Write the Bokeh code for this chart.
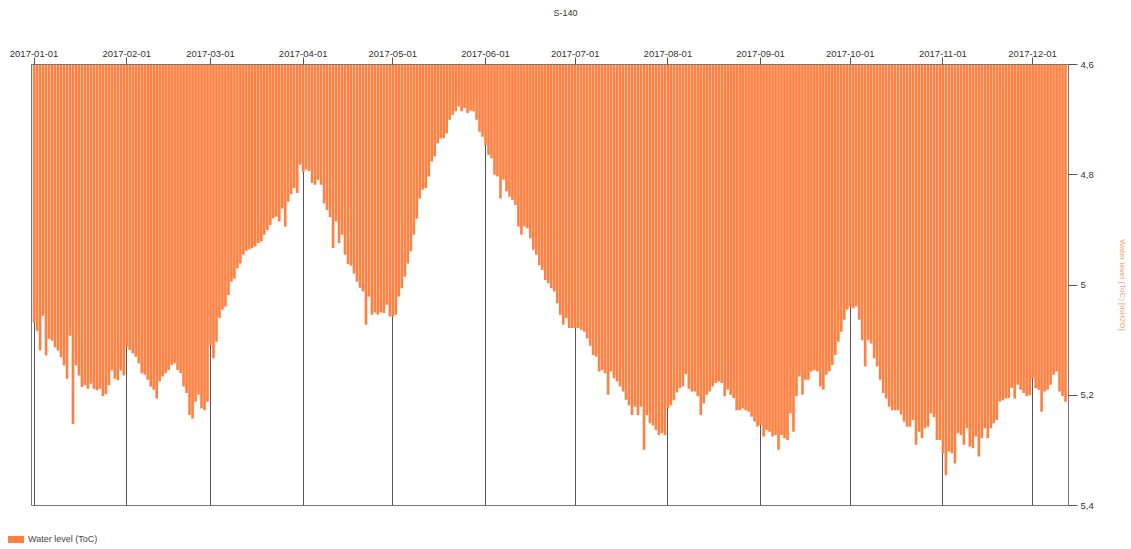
import pandas as pd
from bokeh.plotting import figure
from bokeh.layouts import column
from bokeh.models import (Range1d, FixedTicker, DatetimeTickFormatter, CustomJSTickFormatter,
                          ColumnDataSource, Div)
from bokeh.embed import file_html
from bokeh.resources import INLINE

title_text = "S-140"
series_name = "Water level (ToC)"
y_label = "Water level (ToC) [mH2O]"
start_date = "2017-01-01"
y_ticks = [4.6, 4.8, 5.0, 5.2, 5.4]

jan = [5.068, 5.083, 5.119, 5.056, 5.128, 5.098, 5.101, 5.113, 5.119, 5.131, 5.146, 5.170, 5.092,
       5.252, 5.146, 5.164, 5.185, 5.182, 5.188, 5.179, 5.188, 5.191, 5.188, 5.202, 5.198, 5.182,
       5.155, 5.170, 5.173, 5.155, 5.164]
feb = [5.112, 5.118, 5.124, 5.130, 5.142, 5.160, 5.163, 5.172, 5.184, 5.190, 5.206, 5.175, 5.166,
       5.160, 5.154, 5.145, 5.142, 5.154, 5.160, 5.184, 5.196, 5.236, 5.242, 5.212, 5.199, 5.224,
       5.227, 5.212]
mar = [5.109, 5.133, 5.103, 5.060, 5.045, 5.039, 5.018, 4.994, 4.988, 4.970, 4.961, 4.945, 4.938,
       4.935, 4.933, 4.930, 4.924, 4.921, 4.909, 4.900, 4.891, 4.879, 4.876, 4.885, 4.861, 4.894,
       4.849, 4.835, 4.824, 4.833, 4.782]
apr = [4.795, 4.791, 4.793, 4.815, 4.818, 4.809, 4.818, 4.852, 4.864, 4.877, 4.933, 4.885, 4.924,
       4.909, 4.945, 4.962, 4.965, 4.979, 4.994, 5.005, 5.012, 5.072, 5.021, 5.054, 5.050, 5.054,
       5.050, 5.051, 5.036, 5.057]
may = [5.057, 5.054, 5.021, 5.006, 4.985, 4.961, 4.939, 4.909, 4.880, 4.843, 4.827, 4.824, 4.803,
       4.776, 4.767, 4.743, 4.734, 4.734, 4.725, 4.700, 4.691, 4.685, 4.676, 4.685, 4.679, 4.688,
       4.684, 4.685, 4.700, 4.722, 4.731]
jun = [4.746, 4.764, 4.770, 4.800, 4.803, 4.843, 4.809, 4.830, 4.840, 4.846, 4.855, 4.894, 4.909,
       4.894, 4.897, 4.915, 4.936, 4.945, 4.964, 4.973, 4.991, 4.997, 5.006, 5.012, 5.033, 5.054,
       5.072, 5.060, 5.078, 5.078]
jul = [5.078, 5.078, 5.081, 5.085, 5.097, 5.110, 5.127, 5.130, 5.157, 5.154, 5.160, 5.199, 5.157,
       5.169, 5.175, 5.184, 5.193, 5.208, 5.218, 5.236, 5.221, 5.236, 5.221, 5.299, 5.236, 5.251,
       5.255, 5.263, 5.272, 5.269, 5.272]
aug = [5.224, 5.218, 5.209, 5.195, 5.187, 5.184, 5.162, 5.188, 5.193, 5.193, 5.202, 5.236, 5.215,
       5.199, 5.193, 5.184, 5.178, 5.175, 5.178, 5.202, 5.190, 5.199, 5.205, 5.227, 5.227, 5.224,
       5.227, 5.230, 5.239, 5.248, 5.257]
sep = [5.254, 5.275, 5.263, 5.266, 5.275, 5.272, 5.299, 5.272, 5.278, 5.281, 5.233, 5.266, 5.202,
       5.166, 5.199, 5.172, 5.172, 5.157, 5.154, 5.157, 5.184, 5.190, 5.163, 5.157, 5.145, 5.127,
       5.103, 5.085, 5.063, 5.045]
oct_ = [5.040, 5.042, 5.039, 5.063, 5.100, 5.148, 5.100, 5.106, 5.133, 5.148, 5.172, 5.196, 5.206,
        5.221, 5.227, 5.227, 5.227, 5.235, 5.248, 5.257, 5.257, 5.245, 5.290, 5.266, 5.278, 5.260,
        5.257, 5.233, 5.240, 5.281, 5.281]
nov = [5.305, 5.345, 5.302, 5.305, 5.324, 5.269, 5.272, 5.290, 5.260, 5.293, 5.296, 5.275, 5.311,
       5.278, 5.260, 5.278, 5.260, 5.251, 5.245, 5.212, 5.209, 5.206, 5.205, 5.187, 5.206, 5.181,
       5.190, 5.196, 5.202, 5.200]
dec = [5.169, 5.187, 5.190, 5.230, 5.193, 5.190, 5.181, 5.163, 5.157, 5.193, 5.202, 5.212]

levels = jan + feb + mar + apr + may + jun + jul + aug + sep + oct_ + nov + dec
dates = pd.date_range(start_date, periods=len(levels), freq="D")
month_starts = pd.date_range(start_date, dates[-1], freq="MS")

DAY = 86400000.0
BAR_COLOR = "#FF8040"
FONT = "'Liberation Sans', Arial, sans-serif"


def ms(ts):
    return pd.Timestamp(ts).value / 1e6


month_ms = [ms(t) for t in month_starts]
x_start = ms(dates[0]) - 0.87 * DAY
x_end = ms(dates[-1]) + 1.0 * DAY

src = ColumnDataSource(data=dict(date=[ms(d) for d in dates], level=levels))

TITLE_H = 26
LEGEND_H = 19

title_div = Div(
    text=(f'<div style="width:1131px;height:{TITLE_H}px;line-height:{TITLE_H}px;'
          f'text-align:center;font-family:{FONT};font-size:9px;color:#333333;">'
          f'{title_text}</div>'),
    width=1131, height=TITLE_H, margin=0)

p = figure(width=1131, height=549 - TITLE_H - LEGEND_H, x_axis_type="datetime",
           x_axis_location="above", y_axis_location="right", x_range=Range1d(x_start, x_end),
           y_range=Range1d(y_ticks[-1], y_ticks[0]), output_backend="svg",
           toolbar_location=None, min_border_left=31, min_border_right=63,
           min_border_top=64 - TITLE_H, min_border_bottom=549 - LEGEND_H - 505, margin=0)
p.background_fill_color = "white"
p.border_fill_color = "white"
p.outline_line_color = "#777777"

r = p.vbar(x="date", width=0.88 * DAY, top=y_ticks[0], bottom="level", source=src,
           fill_color=BAR_COLOR, line_color=None)

# top datetime axis
p.xaxis.ticker = FixedTicker(ticks=month_ms)
fmt = "%Y-%m-%d"
p.xaxis.formatter = DatetimeTickFormatter(days=fmt, months=fmt, years=fmt, hours=fmt,
                                          minutes=fmt, seconds=fmt, milliseconds=fmt,
                                          microseconds=fmt, minsec=fmt, hourmin=fmt,
                                          context=None)
p.xaxis.major_label_text_font = "Liberation Sans"
p.xaxis.major_label_text_font_size = "9.5px"
p.xaxis.major_label_text_color = "#333333"
p.xaxis.major_tick_out = 7
p.xaxis.major_tick_in = 0
p.xaxis.minor_tick_line_color = None
p.xaxis.axis_line_color = "#777777"
p.xaxis.major_tick_line_color = "#555555"
p.xaxis.major_label_standoff = 1

# right value axis
p.yaxis.ticker = FixedTicker(ticks=y_ticks)
p.yaxis.formatter = CustomJSTickFormatter(
    code="var s = tick.toFixed(1); if (s.endsWith('.0')) { s = s.slice(0, -2); } return s.replace('.', ',');")
p.yaxis.major_label_text_font = "Liberation Sans"
p.yaxis.major_label_text_font_size = "9.5px"
p.yaxis.major_label_text_color = "#333333"
p.yaxis.major_tick_out = 9
p.yaxis.major_tick_in = 0
p.yaxis.minor_tick_line_color = None
p.yaxis.axis_line_color = "#777777"
p.yaxis.major_tick_line_color = "#555555"
p.yaxis.major_label_standoff = 3
p.yaxis.axis_label = y_label
p.yaxis.axis_label_text_font = "Liberation Sans"
p.yaxis.axis_label_text_font_size = "8px"
p.yaxis.axis_label_text_font_style = "normal"
p.yaxis.axis_label_text_color = "#F4A46C"
p.yaxis.axis_label_standoff = 21

# month grid lines
p.xgrid.ticker = FixedTicker(ticks=month_ms)
p.xgrid.grid_line_color = "#555555"
p.xgrid.grid_line_width = 1
p.ygrid.visible = False

# legend strip below the chart
legend_div = Div(
    text=(f'<div style="height:{LEGEND_H}px;line-height:{LEGEND_H}px;font-family:{FONT};'
          f'font-size:9px;color:#444444;white-space:nowrap;">'
          f'<span style="display:inline-block;width:16px;height:7px;background:{BAR_COLOR};'
          f'margin-left:8px;margin-right:4px;vertical-align:middle;"></span>'
          f'<span style="vertical-align:middle;">{series_name}</span></div>'),
    width=400, height=LEGEND_H, margin=0)

layout = column(title_div, p, legend_div, spacing=0)
open("out.html", "w").write(file_html(layout, INLINE))
